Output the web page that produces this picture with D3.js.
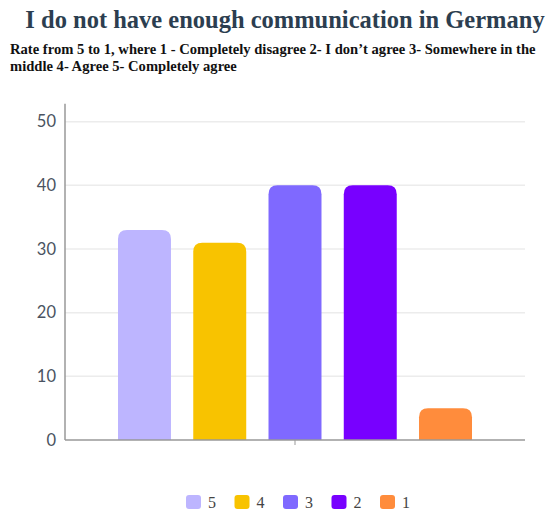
<!DOCTYPE html>
<html><head><meta charset="utf-8">
<script src="https://cdn.jsdelivr.net/npm/d3@7"></script>
<style>body{margin:0;background:#fff}svg{display:block}</style>
</head><body>
<script>
const categories = ["5","4","3","2","1"];
const values = [33, 31, 40, 40, 5];
const colors = ["#bdb5ff","#f8c300","#7f69ff","#7800ff","#ff8c3c"];
const yTicks = [0,10,20,30,40,50];
const title = "I do not have enough communication in Germany";
const subtitle = ["Rate from 5 to 1, where 1 - Completely disagree 2- I don’t agree 3- Somewhere in the", "middle 4- Agree 5- Completely agree"];

(function () {
const W = 549, H = 519;
const svg = d3.select("body").append("svg").attr("width", W).attr("height", H);

svg.append("text").attr("x", 285).attr("y", 28).attr("text-anchor", "middle")
  .attr("font-family", "Liberation Serif, Times New Roman, serif").attr("font-weight", "bold")
  .attr("font-size", 24.5).attr("fill", "#2c3e50").text(title);
subtitle.forEach((s, i) => {
  svg.append("text").attr("x", 10).attr("y", 53.5 + i * 17)
    .attr("font-family", "Liberation Serif, Times New Roman, serif").attr("font-weight", "bold")
    .attr("font-size", 14.6).attr("fill", "#111").text(s);
});

const pLeft = 65, pRight = 525, pTop = 121.7, pBottom = 440;
const y = d3.scaleLinear().domain([0, 50]).range([pBottom, pTop]);
const x0 = d3.scaleBand().domain(["g"]).range([pLeft, pRight]).paddingInner(0).paddingOuter(0.1497);
const x1 = d3.scaleBand().domain(categories).range([0, x0.bandwidth()]).paddingInner(0.296).paddingOuter(0);

svg.append("g").selectAll("line").data(yTicks.filter(d => d > 0)).join("line")
  .attr("x1", pLeft).attr("x2", pRight).attr("y1", d => y(d)).attr("y2", d => y(d))
  .attr("stroke", "#ececec").attr("stroke-width", 1.5);

const yAxis = svg.append("g").attr("transform", `translate(${pLeft},0)`)
  .call(d3.axisLeft(y).tickValues(yTicks).tickSize(0).tickPadding(9));
yAxis.select(".domain").attr("stroke", "#999").attr("stroke-width", 1.5).attr("d", `M0,${pTop - 18}V${pBottom}`);
yAxis.selectAll("text").attr("font-family", "Lato, sans-serif").attr("font-size", 16.5).attr("fill", "#4a5361");

const r = 9;
svg.append("g").selectAll("path").data(categories).join("path")
  .attr("fill", (d, i) => colors[i])
  .attr("d", (d, i) => {
    const bx = x0("g") + x1(d), bw = x1.bandwidth(), by = y(values[i]), bb = y(0);
    const rr = Math.min(r, (bb - by));
    return `M${bx},${bb}V${by + rr}Q${bx},${by} ${bx + rr},${by}H${bx + bw - rr}Q${bx + bw},${by} ${bx + bw},${by + rr}V${bb}Z`;
  });

const xAxis = svg.append("g").attr("transform", `translate(0,${pBottom})`)
  .call(d3.axisBottom(x0).tickSize(5).tickFormat(""));
xAxis.select(".domain").attr("stroke", "#999").attr("stroke-width", 1.5).attr("d", `M${pLeft},0H${pRight}`);
xAxis.selectAll(".tick line").attr("stroke", "#999");

const legX = d3.scalePoint().domain(categories).range([186, 380]);
const leg = svg.append("g").selectAll("g").data(categories).join("g")
  .attr("transform", d => `translate(${legX(d)},495)`);
leg.append("rect").attr("width", 15).attr("height", 14).attr("rx", 3)
  .attr("fill", (d, i) => colors[i]);
leg.append("text").attr("x", 22).attr("y", 13)
  .attr("font-family", "Liberation Serif, Times New Roman, serif").attr("font-size", 16)
  .attr("fill", "#444").text(d => d);
})();
</script>
</body></html>
